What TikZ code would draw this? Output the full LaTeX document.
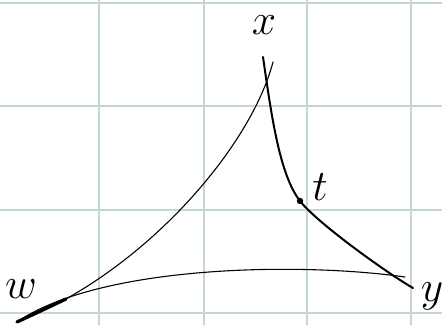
\documentclass[tikz,border=0pt]{standalone}
\usetikzlibrary{calc}
\definecolor{gridTeal}{HTML}{C5D7D5}
\begin{document}
\begin{tikzpicture}[x=0.0966mm, y=-0.0966mm,
    gridline/.style={draw=gridTeal, line width=0.45pt},
    lbl/.style={font=\fontsize{13}{15}\selectfont, anchor=base, inner sep=0pt}]
  \useasboundingbox (0,0) rectangle (442,325);
  % squared paper
  \foreach \gx in {99,204,307,411}
    \draw[gridline] (\gx,0) -- (\gx,325);
  \foreach \gy in {3,106,210,313}
    \draw[gridline] (0,\gy) -- (442,\gy);

  % corner points
  \coordinate (w) at (17,322);
  \coordinate (wtip) at (66,299);
  \coordinate (xleft) at (273,62);
  \coordinate (xright) at (263,57);
  \coordinate (t) at (300,201);
  \coordinate (y) at (413,288);
  \coordinate (ybase) at (405,277);

  % labels
  \node[lbl] (lx) at (264,35) {$x$};
  \node[lbl] (lt) at (320,201) {$t$};
  \node[lbl] (lw) at (21,299) {$w$};
  \node[lbl] (ly) at (432,302) {$y$};

  % sides
  \draw[line width=0.3pt, line cap=round]
    (w) .. controls (140,275) and (250,150) .. (xleft);
  \draw[line width=0.3pt, line cap=round]
    (w) .. controls (100,265) and (300,262) .. (ybase);
  \draw[line width=0.55pt, line cap=round]
    (xright) .. controls (272,120) and (280,175) .. (t)
    .. controls (318,224) and (390,275) .. (y);
  \draw[line width=0.9pt, line cap=round] (w) -- (wtip);
  \fill (t) circle (3.2);
\end{tikzpicture}
\end{document}
